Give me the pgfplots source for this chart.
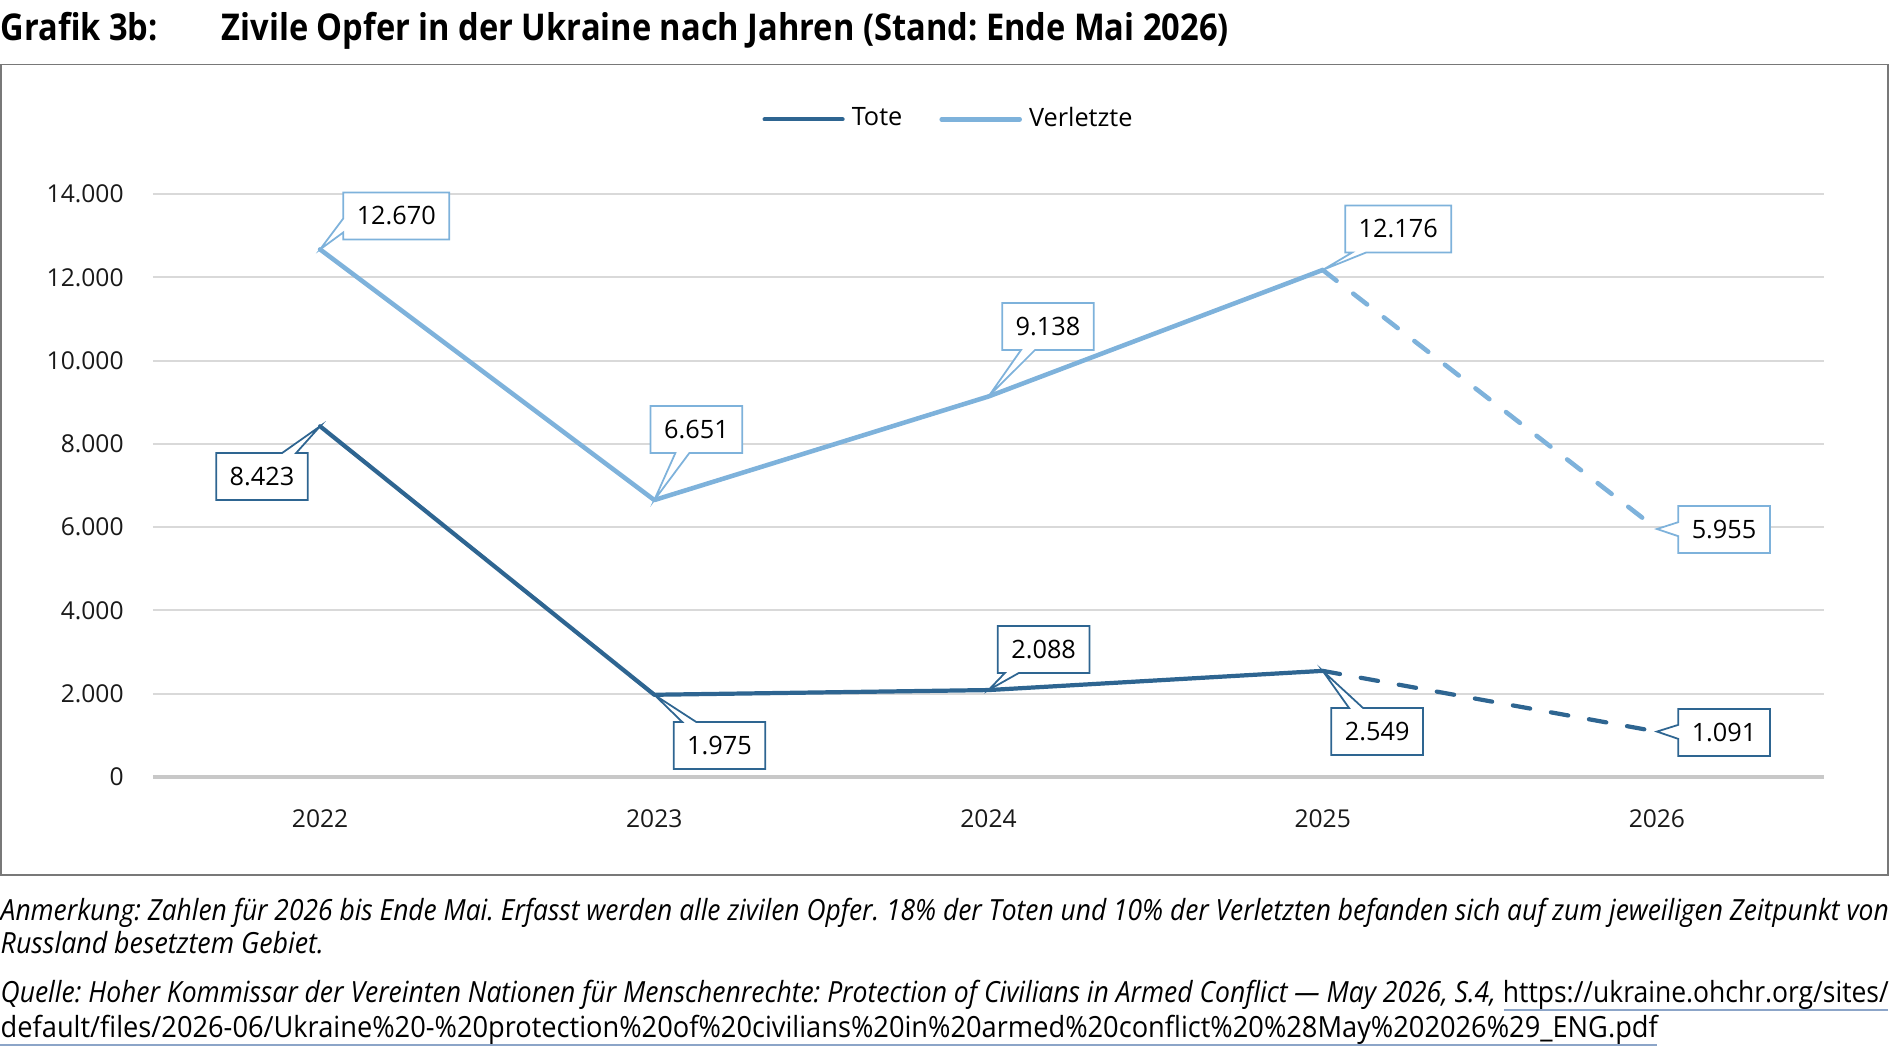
\documentclass[border=0pt]{standalone}
\usepackage{fontspec}
\setmainfont{Open Sans}
\usepackage{graphicx}
\usepackage{pgfplots}
\pgfplotsset{compat=1.18}
\usetikzlibrary{shapes.callouts}
\definecolor{tote}{RGB}{46,101,145}
\definecolor{verl}{RGB}{126,178,219}
\definecolor{gridc}{RGB}{217,217,217}
\definecolor{basec}{RGB}{200,200,200}
\definecolor{framec}{RGB}{120,120,120}
\definecolor{ulc}{RGB}{140,165,200}
\tikzset{co/.style={rectangle callout, draw=#1, fill=white, line width=0.5pt,
  inner xsep=0.135cm, inner ysep=0pt, minimum height=0.47cm,
  callout pointer width=0.14cm, font=\fontsize{7.2}{8}\selectfont, text=black}}
\frenchspacing
\begin{document}
\begin{tikzpicture}[x=1cm,y=1cm]
\useasboundingbox (0,0) rectangle (18.9,-10.56);
\draw[framec, line width=0.5pt] (0.01,-0.645) rectangle (18.88,-8.75);
\node[anchor=base west, inner sep=0] at (0,-0.40) {\resizebox{1.57cm}{\height}{\fontsize{10.5}{12}\selectfont\bfseries Grafik 3b:}};
\node[anchor=base west, inner sep=0] at (2.21,-0.40) {\resizebox{10.07cm}{\height}{\fontsize{10.5}{12}\selectfont\bfseries Zivile Opfer in der Ukraine nach Jahren (Stand: Ende Mai 2026)}};
\begin{axis}[
  at={(1.53cm,-7.77cm)}, anchor=south west, scale only axis,
  width=16.71cm, height=5.83cm,
  xmin=-0.5, xmax=4.5, ymin=0, ymax=14000,
  xtick={0,1,2,3,4}, xticklabels={2022,2023,2024,2025,2026},
  ytick={0,2000,4000,6000,8000,10000,12000,14000},
  scaled y ticks=false,
  ymajorgrids, grid style={gridc, line width=0.6pt},
  extra y ticks={0}, extra y tick labels={},
  extra y tick style={grid style={basec, line width=1pt}},
  axis line style={draw=none}, tick style={draw=none}, major tick length=0pt,
  /pgf/number format/assume math mode=true,
  /pgf/number format/fixed,
  /pgf/number format/1000 sep={.},
  tick label style={font=\fontsize{7}{8}\selectfont, text=black!90},
  yticklabel style={xshift=-0.17cm},
  xticklabel style={yshift=-0.2cm},
  clip=false,
  legend columns=2,
  legend style={at={(0.4776,1.128)}, anchor=center, draw=none, fill=none,
    font=\fontsize{7.2}{9}\selectfont, inner sep=0pt,
    /tikz/every even column/.append style={column sep=0.3cm}},
  legend image code/.code={\draw[#1, line cap=round] (0cm,0cm) -- (0.78cm,0cm);},
]
\addplot[tote, line width=1.2pt, line join=round, line cap=round] coordinates {(0,8423) (1,1975) (2,2088) (3,2549)};
\addlegendentry{Tote}
\addplot[tote, line width=1.2pt, line cap=round, dash pattern=on 5pt off 6pt, forget plot] coordinates {(3,2549) (4,1091)};
\addplot[verl, line width=1.3pt, line join=round, line cap=round] coordinates {(0,12670) (1,6651) (2,9138) (3,12176)};
\addlegendentry{Verletzte}
\addplot[verl, line width=1.3pt, line cap=round, dash pattern=on 5pt off 6pt, forget plot] coordinates {(3,12176) (4,5955)};
\coordinate (v0) at (axis cs:0,12670);
\coordinate (v1) at (axis cs:1,6651);
\coordinate (v2) at (axis cs:2,9138);
\coordinate (v3) at (axis cs:3,12176);
\coordinate (v4) at (axis cs:4,5955);
\coordinate (t0) at (axis cs:0,8423);
\coordinate (t1) at (axis cs:1,1975);
\coordinate (t2) at (axis cs:2,2088);
\coordinate (t3) at (axis cs:3,2549);
\coordinate (t4) at (axis cs:4,1091);
\coordinate (bv0) at (axis cs:0.228,13473);
\coordinate (bv1) at (axis cs:1.126,8345);
\coordinate (bv2) at (axis cs:2.178,10819);
\coordinate (bv3) at (axis cs:3.226,13160);
\coordinate (bv4) at (axis cs:4.201,5944);
\coordinate (bt0) at (axis cs:-0.174,7217);
\coordinate (bt1) at (axis cs:1.195,756);
\coordinate (bt2) at (axis cs:2.165,3062);
\coordinate (bt3) at (axis cs:3.163,1093);
\coordinate (bt4) at (axis cs:4.201,1069);
\end{axis}
\node[co=verl, callout absolute pointer=(v0)] at (bv0) {12.670};
\node[co=verl, callout absolute pointer=(v1)] at (bv1) {6.651};
\node[co=verl, callout absolute pointer=(v2)] at (bv2) {9.138};
\node[co=verl, callout absolute pointer=(v3)] at (bv3) {12.176};
\node[co=verl, callout absolute pointer=(v4)] at (bv4) {5.955};
\node[co=tote, callout absolute pointer=(t0)] at (bt0) {8.423};
\node[co=tote, callout absolute pointer=(t1)] at (bt1) {1.975};
\node[co=tote, callout absolute pointer=(t2)] at (bt2) {2.088};
\node[co=tote, callout absolute pointer=(t3)] at (bt3) {2.549};
\node[co=tote, callout absolute pointer=(t4)] at (bt4) {1.091};
\node[anchor=base west, inner sep=0] at (0,-9.20) {\resizebox{18.88cm}{\height}{\fontsize{8.3}{10}\selectfont\itshape Anmerkung: Zahlen für 2026 bis Ende Mai. Erfasst werden alle zivilen Opfer. 18\% der Toten und 10\% der Verletzten befanden sich auf zum jeweiligen Zeitpunkt von}};
\node[anchor=base west, inner sep=0] at (0,-9.53) {\resizebox{3.23cm}{\height}{\fontsize{8.3}{10}\selectfont\itshape Russland besetztem Gebiet.}};
\node[anchor=base west, inner sep=0] at (0,-10.02) {\resizebox{18.88cm}{\height}{\fontsize{8.3}{10}\selectfont{\itshape Quelle: Hoher Kommissar der Vereinten Nationen für Menschenrechte: Protection of Civilians in Armed Conflict — May 2026, S.4,} https://ukraine.ohchr.org/sites/}};
\node[anchor=base west, inner sep=0] at (0,-10.37) {\resizebox{16.57cm}{\height}{\fontsize{8.3}{10}\selectfont default/files/2026-06/Ukraine\%20-\%20protection\%20of\%20civilians\%20in\%20armed\%20conflict\%20\%28May\%202026\%29\_ENG.pdf}};
\draw[ulc, line width=0.6pt] (15.04,-10.10) -- (18.88,-10.10);
\draw[ulc, line width=0.6pt] (0,-10.45) -- (16.57,-10.45);
\end{tikzpicture}
\end{document}
